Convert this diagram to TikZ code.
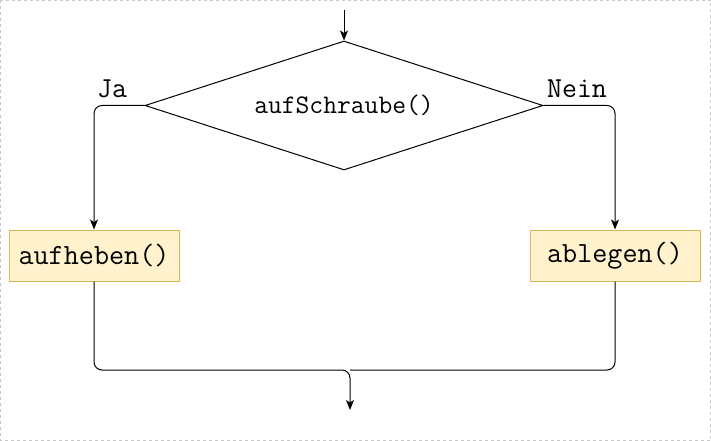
\documentclass[tikz,border=0pt]{standalone}
\usetikzlibrary{shapes.geometric,arrows.meta}
\definecolor{boxfill}{HTML}{FFF2CC}
\definecolor{boxdraw}{HTML}{D6B656}
\definecolor{framegray}{HTML}{C8C8C8}
\tikzset{
  procbox/.style={draw=boxdraw, fill=boxfill, line width=1pt, minimum width=170pt, minimum height=51pt, inner sep=0pt, font=\ttfamily\fontsize{29.3}{34}\selectfont},
  decision/.style={draw=black, line width=1pt, shape=diamond, shape aspect=3.09, minimum width=398pt, minimum height=129pt, inner sep=0pt, font=\ttfamily\fontsize{26.8}{30}\selectfont},
  lbl/.style={font=\ttfamily\fontsize{29}{34}\selectfont, inner sep=0pt},
  conn/.style={draw=black, line width=1pt, rounded corners=8pt},
  arr/.style={conn, -{Stealth[length=10pt,width=8pt,inset=2.5pt]}}
}
\begin{document}
\begin{tikzpicture}[x=1pt,y=-1pt]
\useasboundingbox (0,0) rectangle (711,441);
\draw[framegray, dashed, line width=1pt] (0.5,0.5) rectangle (710.5,440.5);
\node[decision] (d) at (344,105.5) {aufSchraube()};
\node[procbox] (a) at (94,255.5) {aufheben()};
\node[procbox] (b) at (615,255.5) {ablegen()};
\node[lbl] (ja) at (112,89) {Ja};
\node[lbl] (nein) at (577,89) {Nein};
\coordinate (start) at (344,10);
\coordinate (m) at (350,370);
\coordinate (e) at (350,410);
\draw[arr] (start) -- (d.north);
\draw[arr] (d.west) -| (a.north);
\draw[arr] (d.east) -| (b.north);
\draw[arr] (a.south) |- (m) -- (e);
\draw[conn] (b.south) |- (m);
\end{tikzpicture}
\end{document}
